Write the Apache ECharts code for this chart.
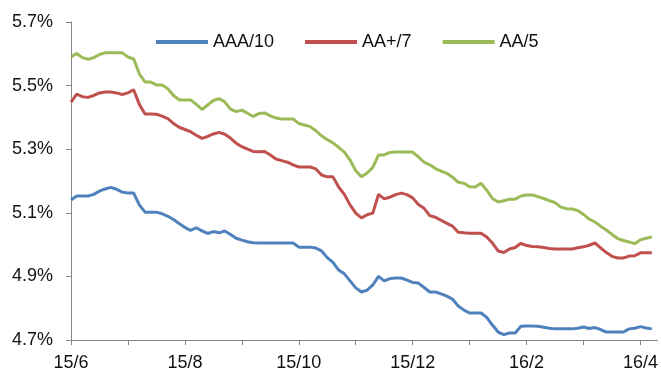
<!DOCTYPE html>
<html>
<head>
<meta charset="utf-8">
<script src="https://cdn.jsdelivr.net/npm/echarts@6/dist/echarts.min.js"></script>
<style type="text/css">
html,body{margin:0;padding:0;background:#fff;}
#chart{width:661px;height:372px;}
</style>
</head>
<body>
<div id="chart"></div>
<script type="text/javascript">
// month labels, each month split into 10 steps on the category axis
var months = ['15/6','15/7','15/8','15/9','15/10','15/11','15/12','16/1','16/2','16/3','16/4','16/5'];
var stepsPerMonth = 10;
var categoryCount = 104;

var yMin = 4.7;
var yTicks = ['4.7%','4.9%','5.1%','5.3%','5.5%','5.7%'];

var seriesNames = ['AAA/10','AA+/7','AA/5'];

var aaa10 = [5.140,5.153,5.153,5.153,5.158,5.168,5.175,5.180,5.174,5.165,
  5.162,5.162,5.125,5.102,5.102,5.102,5.097,5.089,5.079,5.066,
  5.054,5.045,5.053,5.043,5.035,5.041,5.037,5.043,5.032,5.020,
  5.014,5.009,5.006,5.005,5.005,5.005,5.005,5.005,5.005,5.005,
  4.992,4.992,4.992,4.989,4.980,4.959,4.944,4.920,4.908,4.886,
  4.864,4.851,4.857,4.873,4.900,4.886,4.893,4.895,4.895,4.888,
  4.881,4.879,4.865,4.851,4.851,4.845,4.838,4.828,4.807,4.794,
  4.785,4.785,4.785,4.771,4.747,4.725,4.717,4.722,4.722,4.743,
  4.744,4.744,4.743,4.740,4.737,4.735,4.735,4.735,4.735,4.737,
  4.741,4.736,4.739,4.733,4.725,4.725,4.725,4.725,4.735,4.737,
  4.742,4.738,4.735];

var aaPlus7 = [5.448,5.473,5.465,5.463,5.469,5.477,5.480,5.480,5.477,5.472,
  5.477,5.487,5.441,5.411,5.411,5.410,5.404,5.396,5.381,5.369,
  5.362,5.355,5.344,5.334,5.340,5.348,5.353,5.347,5.335,5.319,
  5.308,5.300,5.293,5.292,5.293,5.282,5.269,5.264,5.259,5.251,
  5.244,5.244,5.244,5.238,5.219,5.213,5.213,5.181,5.158,5.125,
  5.099,5.084,5.094,5.099,5.158,5.144,5.149,5.157,5.162,5.157,
  5.147,5.126,5.114,5.091,5.086,5.076,5.067,5.058,5.039,5.037,
  5.036,5.036,5.036,5.024,5.005,4.980,4.975,4.986,4.991,5.004,
  4.997,4.994,4.993,4.991,4.988,4.986,4.986,4.986,4.986,4.990,
  4.993,4.998,5.005,4.990,4.975,4.963,4.958,4.958,4.964,4.965,
  4.974,4.974,4.974];

var aa5 = [5.590,5.601,5.588,5.583,5.588,5.598,5.603,5.603,5.603,5.603,
  5.590,5.584,5.537,5.511,5.511,5.502,5.502,5.490,5.469,5.455,
  5.455,5.455,5.441,5.425,5.439,5.453,5.459,5.449,5.426,5.418,
  5.423,5.413,5.403,5.412,5.414,5.405,5.398,5.395,5.395,5.395,
  5.381,5.376,5.371,5.358,5.342,5.330,5.320,5.306,5.291,5.266,
  5.232,5.213,5.225,5.243,5.282,5.282,5.290,5.291,5.291,5.291,
  5.291,5.276,5.259,5.251,5.239,5.231,5.224,5.212,5.196,5.193,
  5.182,5.181,5.193,5.171,5.145,5.134,5.138,5.143,5.143,5.153,
  5.156,5.156,5.151,5.145,5.138,5.132,5.118,5.113,5.112,5.107,
  5.095,5.080,5.071,5.058,5.046,5.032,5.019,5.013,5.008,5.003,
  5.015,5.020,5.024];

var colors = ['#4F81BD','#C0504D','#9BBB59'];

var categories = [];
for (var i = 0; i < categoryCount; i++) {
  var m = months[Math.floor(i / stepsPerMonth)];
  categories.push(i % stepsPerMonth === 0 ? m : m + '.' + (i % stepsPerMonth));
}

// axis ticks count from min, so plot the offset from 4.7 and relabel
function shift(arr) {
  return arr.map(function (v) { return +(v - yMin).toFixed(4); });
}

var font = 'Liberation Sans';
var myChart = echarts.init(document.getElementById('chart'));
myChart.setOption({
  animation: false,
  color: colors,
  textStyle: { fontFamily: font },
  legend: {
    top: 28,
    left: 151,
    icon: 'rect',
    itemWidth: 52,
    itemHeight: 4,
    itemGap: 31,
    textStyle: { fontFamily: font, fontSize: 18, color: '#111' },
    data: seriesNames
  },
  grid: { left: 71, right: -6, top: 22, bottom: 32, containLabel: false },
  xAxis: {
    type: 'category',
    boundaryGap: false,
    data: categories,
    axisLine: { lineStyle: { color: '#868686', width: 1 } },
    axisTick: { interval: stepsPerMonth - 1, length: 5, lineStyle: { color: '#868686' } },
    axisLabel: {
      interval: stepsPerMonth * 2 - 1,
      margin: 14,
      fontFamily: font,
      fontSize: 18,
      color: '#111',
      formatter: function (val) { return val.split('.')[0]; }
    },
    splitLine: { show: false }
  },
  yAxis: {
    type: 'value',
    min: 0,
    max: 1,
    interval: 0.2,
    axisLine: { show: true, lineStyle: { color: '#868686', width: 1 } },
    axisTick: { show: true, length: 5, lineStyle: { color: '#868686' } },
    axisLabel: {
      margin: 18,
      fontFamily: font,
      fontSize: 18,
      color: '#111',
      formatter: function (val) { return yTicks[Math.round(val / 0.2)]; }
    },
    splitLine: { show: false }
  },
  series: [
    { name: seriesNames[0], type: 'line', data: shift(aaa10), showSymbol: false, lineStyle: { width: 3 } },
    { name: seriesNames[1], type: 'line', data: shift(aaPlus7), showSymbol: false, lineStyle: { width: 3 } },
    { name: seriesNames[2], type: 'line', data: shift(aa5), showSymbol: false, lineStyle: { width: 3 } }
  ]
});
</script>
</body>
</html>
